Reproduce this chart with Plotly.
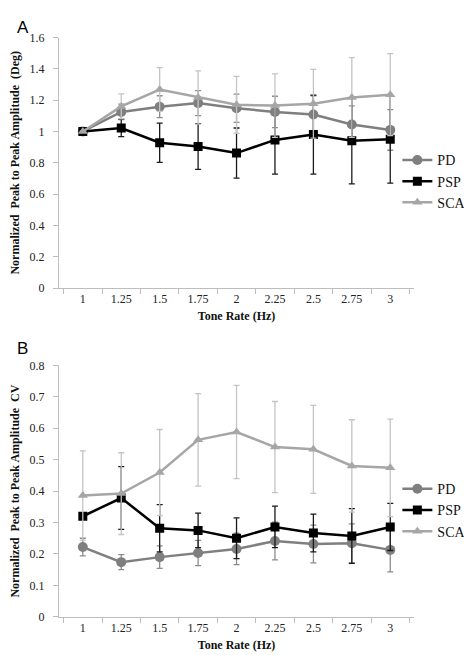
import plotly.graph_objects as go

W, H = 472, 655

tone_rates = ["1", "1.25", "1.5", "1.75", "2", "2.25", "2.5", "2.75", "3"]

# Panel A: normalized peak-to-peak amplitude (Deg)
pd_a = [1.0, 1.125, 1.158, 1.181, 1.148, 1.125, 1.108, 1.044, 1.010]
pd_a_err = [0.0, 0.05, 0.07, 0.08, 0.09, 0.10, 0.12, 0.12, 0.13]
psp_a = [1.0, 1.022, 0.928, 0.904, 0.862, 0.946, 0.980, 0.940, 0.950]
psp_a_err = [0.0, 0.055, 0.125, 0.146, 0.160, 0.218, 0.252, 0.275, 0.280]
sca_a = [1.0, 1.160, 1.268, 1.217, 1.170, 1.165, 1.177, 1.217, 1.235]
sca_a_err = [0.0, 0.080, 0.140, 0.170, 0.182, 0.203, 0.220, 0.255, 0.262]

# Panel B: normalized peak-to-peak amplitude CV
pd_b = [0.222, 0.174, 0.190, 0.203, 0.216, 0.241, 0.232, 0.234, 0.213]
pd_b_err = [0.028, 0.024, 0.036, 0.040, 0.050, 0.060, 0.060, 0.062, 0.070]
psp_b = [0.320, 0.378, 0.282, 0.275, 0.250, 0.286, 0.267, 0.257, 0.286]
psp_b_err = [0.0, 0.100, 0.075, 0.055, 0.065, 0.066, 0.060, 0.087, 0.075]
sca_b = [0.386, 0.392, 0.459, 0.563, 0.588, 0.540, 0.533, 0.480, 0.474]
sca_b_err = [0.142, 0.130, 0.137, 0.147, 0.148, 0.145, 0.140, 0.147, 0.155]

series_names = ["PD", "PSP", "SCA"]
line_colors = ["#7f7f7f", "#000000", "#a6a6a6"]
err_colors = ["#8c8c8c", "#1a1a1a", "#c4c4c4"]
symbols = ["circle", "square", "triangle-up"]
marker_sizes = [10, 9, 9]

SERIF = "Liberation Serif"

fig = go.Figure()

panels = [
    ([pd_a, psp_a, sca_a], [pd_a_err, psp_a_err, sca_a_err], "x", "y", "legend"),
    ([pd_b, psp_b, sca_b], [pd_b_err, psp_b_err, sca_b_err], "x2", "y2", "legend2"),
]

for vals, errs, xa, ya, lg in panels:
    for i, name in enumerate(series_names):
        fig.add_trace(go.Scatter(
            x=tone_rates, y=vals[i], name=name, mode="lines+markers",
            xaxis=xa, yaxis=ya, legend=lg,
            line=dict(color=line_colors[i], width=2.5),
            marker=dict(symbol=symbols[i], size=marker_sizes[i], color=line_colors[i]),
            error_y=dict(type="data", array=errs[i], visible=True,
                         color=err_colors[i], thickness=1.3, width=3),
        ))

x0, x1 = 49 / W, 406 / W
domA = [1 - 279 / H, 1 - 23 / H]
domB = [1 - 615 / H, 1 - 358 / H]

axis_line = "#bdbdbd"
tickfont = dict(family=SERIF, size=12, color="#222222")
titlefont = dict(family=SERIF, size=12, color="#111111", weight="bold")

def xaxis(anchor):
    return dict(
        type="category", categoryorder="array", categoryarray=tone_rates,
        domain=[x0, x1], anchor=anchor, showgrid=False, zeroline=False,
        showline=True, linecolor=axis_line, linewidth=1,
        ticks="outside", tickson="boundaries", ticklen=5, tickcolor=axis_line,
        tickfont=tickfont,
        title=dict(text="Tone Rate (Hz)", font=titlefont, standoff=6),
    )

def yaxis(anchor, domain, rng, dtick, title):
    return dict(
        domain=domain, anchor=anchor, range=rng, dtick=dtick,
        showgrid=False, zeroline=False, showline=True, linecolor=axis_line,
        linewidth=1, ticks="outside", ticklen=5, tickcolor=axis_line,
        tickfont=tickfont, ticklabelstandoff=6,
        title=dict(text=title, font=titlefont, standoff=13),
    )

legend_common = dict(
    font=dict(family=SERIF, size=14, color="#111111"),
    bgcolor="rgba(0,0,0,0)", itemwidth=30, tracegroupgap=0,
    xanchor="left", yanchor="middle", x=389 / W,
)

fig.update_layout(
    width=W, height=H,
    margin=dict(l=0, r=0, t=0, b=0),
    paper_bgcolor="white", plot_bgcolor="white",
    showlegend=True,
    xaxis=xaxis("y"),
    yaxis=yaxis("x", domA, [0, 1.6], 0.2, "Normalized  Peak to Peak Amplitude  (Deg)"),
    xaxis2=xaxis("y2"),
    yaxis2=yaxis("x2", domB, [0, 0.8], 0.1, "Normalized  Peak to Peak Amplitude  CV"),
    legend=dict(**legend_common, y=1 - 170 / H),
    legend2=dict(**legend_common, y=1 - 506 / H),
    annotations=[
        dict(text="A", x=5 / W, y=1 - 1 / H, xref="paper", yref="paper",
             xanchor="left", yanchor="top", showarrow=False,
             font=dict(family="Liberation Sans", size=17, color="#000")),
        dict(text="B", x=5 / W, y=1 - 329 / H, xref="paper", yref="paper",
             xanchor="left", yanchor="top", showarrow=False,
             font=dict(family="Liberation Sans", size=17, color="#000")),
    ],
)

fig.write_html("out.html")
